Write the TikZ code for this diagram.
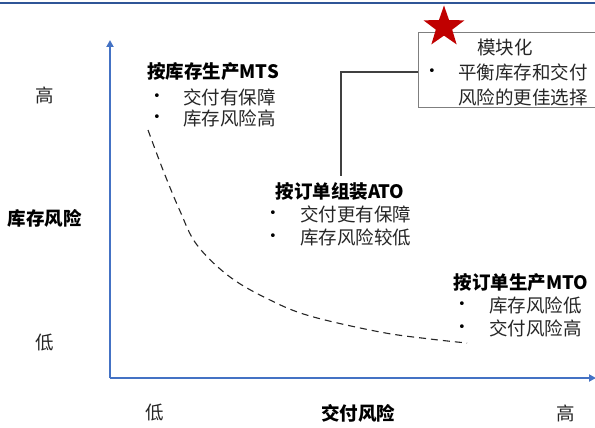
\documentclass[tikz,border=0pt]{standalone}
\usepackage{fontspec}
\setmainfont{Noto Sans CJK SC}
\newfontfamily\bulfont{DejaVu Sans}
\usetikzlibrary{shapes.geometric,arrows.meta}
\definecolor{axisblue}{HTML}{4472C4}
\definecolor{topblue}{HTML}{2F5597}
\definecolor{starred}{HTML}{C00000}
\definecolor{boxgray}{HTML}{7F7F7F}
\definecolor{linkgray}{HTML}{404040}
\tikzset{
  txt/.style={inner sep=0pt, font=\fontsize{18.5}{20}\selectfont, text=black!85},
  ttl/.style={inner sep=0pt, font=\fontsize{18.5}{20}\selectfont\bfseries},
  bul/.style={inner sep=0pt, font=\bulfont\fontsize{13}{14}\selectfont},
  axis/.style={draw=axisblue, line width=2.6pt, -{Triangle[length=7pt,width=7pt]}},
}
\begin{document}
\begin{tikzpicture}[x=1pt,y=-1pt]
\useasboundingbox (0,0) rectangle (595,428);
\fill[white] (0,0) rectangle (595,428);
% top rule
\coordinate (tl) at (0,3);
\coordinate (tr) at (595,3);
\draw[topblue, line width=1.5pt] (tl) -- (tr);
% axes
\coordinate (o) at (110,378);
\coordinate (ytop) at (110,40);
\coordinate (xend) at (596,378);
\draw[axis] (o) -- (ytop);
\draw[axis] (o) -- (xend);
% axis labels
\node[txt] (yh) at (45,95) {高};
\node[ttl] (yl) at (45,218) {库存风险};
\node[txt] (ylo) at (45,343) {低};
\node[txt] (xlo) at (155,413) {低};
\node[ttl] (xl) at (358,413) {交付风险};
\node[txt] (xh) at (566,413) {高};
% dashed curve
\draw[black!85, line width=1.1pt, dash pattern=on 7pt off 5pt] plot[smooth, tension=0.6] coordinates {(148,130) (163,170) (180,211) (197,245) (230,277) (270,300) (310,316) (380,332) (430,339) (467,343)};
% MTS
\node[ttl] (mts) at (213,72) {按库存生产MTS};
\node[bul] (mb1) at (157,97) {•};
\node[bul] (mb2) at (157,118) {•};
\node[txt, anchor=west] (mt1) at (183,97) {交付有保障};
\node[txt, anchor=west] (mt2) at (183,118) {库存风险高};
% ATO
\node[ttl] (ato) at (340,191) {按订单组装ATO};
\node[bul] (ab1) at (273,214) {•};
\node[bul] (ab2) at (273,237) {•};
\node[txt, anchor=west] (at1) at (300,214) {交付更有保障};
\node[txt, anchor=west] (at2) at (300,237) {库存风险较低};
% MTO
\node[ttl] (mto) at (521,283) {按订单生产MTO};
\node[bul] (ob1) at (462,305) {•};
\node[bul] (ob2) at (462,328) {•};
\node[txt, anchor=west] (ot1) at (489,305) {库存风险低};
\node[txt, anchor=west] (ot2) at (489,328) {交付风险高};
% modular box
\node[draw=boxgray, line width=1pt, minimum width=184pt, minimum height=75pt, anchor=north west, inner sep=0pt] (box) at (418,32) {};
\node[txt] (bt) at (505,47) {模块化};
\node[bul] (bb) at (432,72) {•};
\node[txt, anchor=west] (bl1) at (458,72) {平衡库存和交付};
\node[txt, anchor=west] (bl2) at (458,97) {风险的更佳选择};
\node[star, star points=5, star point ratio=2.5, minimum size=43pt, inner sep=0pt, fill=starred] (st) at (444,27) {};
% connector
\coordinate (atotop) at (341,176);
\draw[linkgray, line width=1.5pt] (box.west |- bb) -| (atotop);
\end{tikzpicture}
\end{document}
